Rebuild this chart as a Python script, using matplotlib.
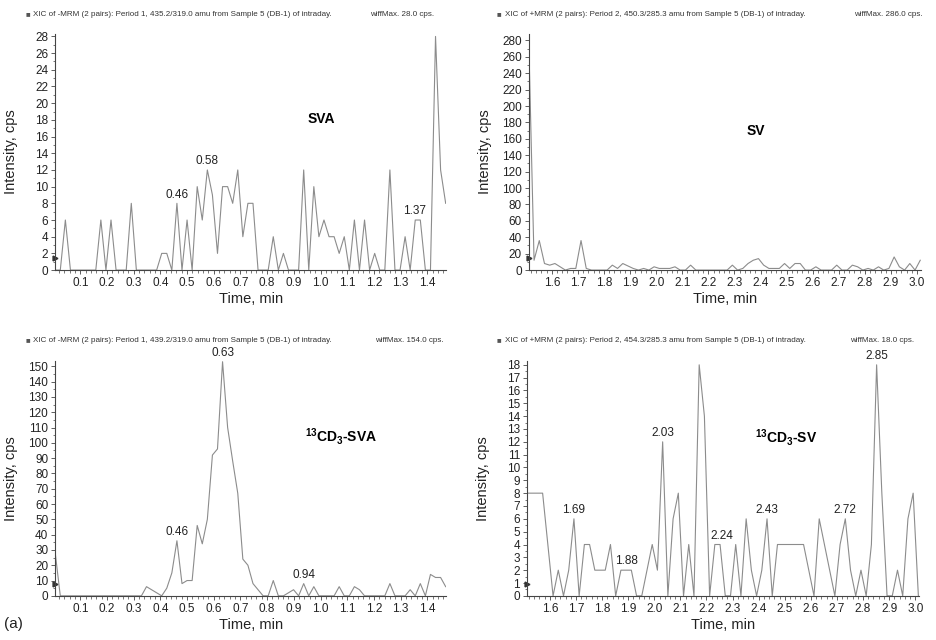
import numpy as np
import matplotlib
matplotlib.use("Agg")
import matplotlib.pyplot as plt
from matplotlib.ticker import MultipleLocator

plt.rcParams['font.family'] = ['Liberation Sans', 'DejaVu Sans']
plt.rcParams['mathtext.fontset'] = 'custom'
plt.rcParams['mathtext.rm'] = 'Liberation Sans'
plt.rcParams['mathtext.bf'] = 'Liberation Sans:bold'
plt.rcParams['mathtext.default'] = 'bf'

# ---- data: period 1 (SVA, 13CD3-SVA) ----
t_p1 = [0.006, 0.025, 0.044, 0.063, 0.082, 0.101, 0.120, 0.139, 0.158, 0.177,
        0.196, 0.215, 0.234, 0.253, 0.272, 0.291, 0.310, 0.329, 0.348, 0.367,
        0.386, 0.405, 0.424, 0.443, 0.462, 0.481, 0.500, 0.519, 0.538, 0.557,
        0.576, 0.595, 0.614, 0.633, 0.652, 0.671, 0.690, 0.709, 0.728, 0.747,
        0.766, 0.785, 0.804, 0.823, 0.842, 0.861, 0.880, 0.899, 0.918, 0.937,
        0.956, 0.975, 0.994, 1.013, 1.032, 1.051, 1.070, 1.089, 1.108, 1.127,
        1.146, 1.165, 1.184, 1.203, 1.222, 1.241, 1.260, 1.279, 1.298, 1.317,
        1.336, 1.355, 1.374, 1.393, 1.412, 1.431, 1.450, 1.469]

sva = [0, 0, 6, 0, 0, 0, 0, 0, 0, 6,
       0, 6, 0, 0, 0, 8, 0, 0, 0, 0,
       0, 2, 2, 0, 8, 0, 6, 0, 10, 6,
       12, 9, 2, 10, 10, 8, 12, 4, 8, 8,
       0, 0, 0, 4, 0, 2, 0, 0, 0, 12,
       0, 10, 4, 6, 4, 4, 2, 4, 0, 6,
       0, 6, 0, 2, 0, 0, 12, 0, 0, 4,
       0, 6, 6, 0, 0, 28, 12, 8]

cd3_sva = [28, 0, 0, 0, 0, 0, 0, 0, 0, 0,
           0, 0, 0, 0, 0, 0, 0, 0, 6, 4,
           2, 0, 5, 15, 36, 8, 10, 10, 46, 34,
           50, 92, 96, 153, 110, 88, 67, 24, 20, 8,
           4, 0, 0, 10, 0, 0, 2, 4, 0, 8,
           0, 6, 0, 0, 0, 0, 6, 0, 0, 6,
           4, 0, 0, 0, 0, 0, 8, 0, 0, 0,
           4, 0, 8, 0, 14, 12, 12, 6]

# ---- data: period 2 (SV, 13CD3-SV) ----
t_p2 = [1.512, 1.532, 1.552, 1.572, 1.592, 1.612, 1.632, 1.652, 1.672, 1.692,
        1.712, 1.732, 1.752, 1.772, 1.792, 1.812, 1.832, 1.852, 1.872, 1.892,
        1.912, 1.932, 1.952, 1.972, 1.992, 2.012, 2.032, 2.052, 2.072, 2.092,
        2.112, 2.132, 2.152, 2.172, 2.192, 2.212, 2.232, 2.252, 2.272, 2.292,
        2.312, 2.332, 2.352, 2.372, 2.392, 2.412, 2.432, 2.452, 2.472, 2.492,
        2.512, 2.532, 2.552, 2.572, 2.592, 2.612, 2.632, 2.652, 2.672, 2.692,
        2.712, 2.732, 2.752, 2.772, 2.792, 2.812, 2.832, 2.852, 2.872, 2.892,
        2.912, 2.932, 2.952, 2.972, 2.992, 3.012]

sv = [275, 12, 36, 8, 6, 8, 4, 0, 2, 2,
      36, 2, 0, 0, 0, 0, 6, 2, 8, 5,
      2, 0, 2, 0, 4, 2, 2, 2, 4, 0,
      0, 6, 0, 0, 0, 0, 0, 0, 0, 6,
      0, 2, 8, 12, 14, 6, 2, 2, 2, 8,
      2, 8, 8, 0, 0, 4, 0, 0, 0, 6,
      0, 0, 6, 4, 0, 2, 0, 4, 0, 2,
      16, 4, 0, 8, 0, 12]

cd3_sv = [8, 8, 8, 8, 4, 0, 2, 0, 2, 6,
          0, 4, 4, 2, 2, 2, 4, 0, 2, 2,
          2, 0, 0, 2, 4, 2, 12, 0, 6, 8,
          0, 4, 0, 18, 14, 0, 4, 4, 0, 0,
          4, 0, 6, 2, 0, 2, 6, 0, 4, 4,
          4, 4, 4, 4, 2, 0, 6, 4, 2, 0,
          4, 6, 2, 0, 2, 0, 4, 18, 8, 0,
          0, 2, 0, 6, 8, 0]

# peak labels (index into series, text)
sva_peaks = [24, 30, 72]
sva_peak_lbl = ['0.46', '0.58', '1.37']
cd3_sva_peaks = [24, 33, 49]
cd3_sva_peak_lbl = ['0.46', '0.63', '0.94']
cd3_sv_peaks = [9, 19, 26, 36, 46, 61, 67]
cd3_sv_peak_lbl = ['1.69', '1.88', '2.03', '2.24', '2.43', '2.72', '2.85']

headers = [
    'XIC of -MRM (2 pairs): Period 1, 435.2/319.0 amu from Sample 5 (DB-1) of intraday.',
    'XIC of +MRM (2 pairs): Period 2, 450.3/285.3 amu from Sample 5 (DB-1) of intraday.',
    'XIC of -MRM (2 pairs): Period 1, 439.2/319.0 amu from Sample 5 (DB-1) of intraday.',
    'XIC of +MRM (2 pairs): Period 2, 454.3/285.3 amu from Sample 5 (DB-1) of intraday.',
]
max_text = ['wiffMax. 28.0 cps.', 'wiffMax. 286.0 cps.', 'wiffMax. 154.0 cps.', 'wiffMax. 18.0 cps.']
names = ['SVA', 'SV', r'$^{13}$CD$_3$-SVA', r'$^{13}$CD$_3$-SV']
threshold = [1.4, 15, 7.5, 0.9]

LINE = '#8c8c8c'
AX = '#444444'

fig = plt.figure(figsize=(9.36, 6.4), dpi=100)

# axes rectangles (figure fraction)
rects = [
    [0.059, 0.578, 0.418, 0.369],
    [0.565, 0.578, 0.419, 0.369],
    [0.059, 0.069, 0.418, 0.367],
    [0.563, 0.069, 0.419, 0.367],
]
series = [(t_p1, sva), (t_p2, sv), (t_p1, cd3_sva), (t_p2, cd3_sv)]
xlims = [(0.006, 1.472), (1.512, 3.015), (0.006, 1.472), (1.512, 3.015)]
ylims = [(0, 28.3), (0, 288), (0, 153.5), (0, 18.3)]
ymajor = [2, 20, 10, 1]
name_pos = [(0.68, 0.64), (0.58, 0.59), (0.73, 0.68), (0.66, 0.675)]
peaks = [(sva_peaks, sva_peak_lbl), ([], []), (cd3_sva_peaks, cd3_sva_peak_lbl),
         (cd3_sv_peaks, cd3_sv_peak_lbl)]
header_y = [0.977, 0.977, 0.468, 0.468]
header_x = [0.027, 0.531, 0.027, 0.531]
max_x = [0.395, 0.912, 0.401, 0.908]

for k in range(4):
    ax = fig.add_axes(rects[k])
    t, y = series[k]
    ax.plot(t, y, color=LINE, lw=0.8)
    ax.set_xlim(*xlims[k])
    ax.set_ylim(*ylims[k])
    for s in ['top', 'right']:
        ax.spines[s].set_visible(False)
    for s in ['left', 'bottom']:
        ax.spines[s].set_color(AX)
        ax.spines[s].set_linewidth(0.8)
    ax.xaxis.set_major_locator(MultipleLocator(0.1))
    ax.xaxis.set_minor_locator(MultipleLocator(0.02))
    ax.yaxis.set_major_locator(MultipleLocator(ymajor[k]))
    ax.yaxis.set_minor_locator(MultipleLocator(ymajor[k] / 2))
    ax.xaxis.set_major_formatter(plt.FuncFormatter(lambda v, p: f'{v:.1f}'))
    ax.tick_params(which='major', length=3, width=0.6, color=AX, labelsize=8.5,
                   labelcolor='#222222', pad=2)
    ax.tick_params(which='minor', length=1.8, width=0.5, color=AX)
    ax.set_xlabel('Time, min', fontsize=10.5, color='#222222', labelpad=2)
    ax.set_ylabel('Intensity, cps', fontsize=10.5, color='#222222')
    ax.yaxis.set_label_coords(-0.095, 0.5)

    ax.plot([xlims[k][0]], [threshold[k]], marker='>', ms=3.5, color='#333333',
            clip_on=False, lw=0)

    ax.text(*name_pos[k], names[k], transform=ax.transAxes, fontsize=10,
            fontweight='bold', ha='center', va='center')

    idx, lbl = peaks[k]
    for i, s in zip(idx, lbl):
        dx = 5 if s == '2.24' else (-4 if s == '1.37' else 0)
        ax.annotate(s, (t[i], y[i]), xytext=(dx, 2), textcoords='offset points',
                    ha='center', va='bottom', fontsize=8.5, color='#222222')

    fig.text(header_x[k], header_y[k], '\u25a0', fontsize=5.5, color='#555555',
             va='center', ha='left')
    fig.text(header_x[k] + 0.008, header_y[k], headers[k], fontsize=5.8,
             color='#333333', va='center', ha='left')
    fig.text(max_x[k], header_y[k], max_text[k], fontsize=5.8, color='#333333',
             va='center', ha='left')

fig.text(0.004, 0.018, '(a)', fontsize=11, color='#222222')

fig.savefig('out.png', dpi=100)
